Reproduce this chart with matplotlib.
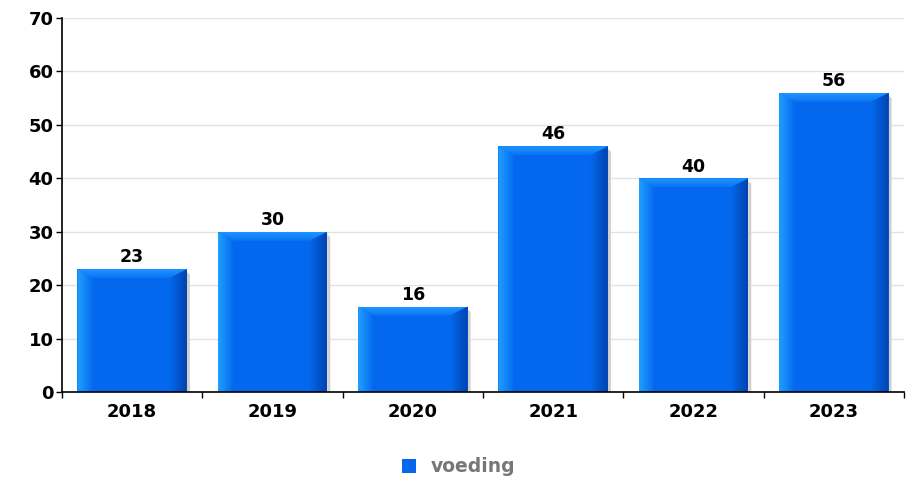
import matplotlib
matplotlib.use("Agg")
import matplotlib.pyplot as plt
import numpy as np
from matplotlib.patches import Polygon, Patch
from matplotlib.colors import LinearSegmentedColormap

categories = ["2018", "2019", "2020", "2021", "2022", "2023"]
values = [23, 30, 16, 46, 40, 56]
series_name = "voeding"
y_ticks = [0, 10, 20, 30, 40, 50, 60, 70]

MAIN = "#0468ee"
TOP_A = "#1f96ff"
TOP_B = "#0a74f4"
LEFT = "#20a0ff"
RIGHT = "#0044b0"

plt.rcParams['font.family'] = ['DejaVu Sans']
fig = plt.figure(figsize=(9.17, 4.79), dpi=100)
ax = fig.add_axes([62/917, 1-392/479, (904-62)/917, (392-18)/479])

x = np.arange(len(categories))
bars = ax.bar(x, values, width=0.78, color=MAIN, zorder=3, linewidth=0)

ax.set_xlim(-0.5, len(categories) - 0.5)
ax.set_ylim(0, 70)
ax.set_yticks(y_ticks)
ax.set_yticklabels([str(t) for t in y_ticks], fontsize=13, fontweight='bold')
ax.set_xticks(x)
ax.set_xticklabels(categories, fontsize=13, fontweight='bold')
ax.tick_params(axis='x', length=0, pad=8)
ax.set_xticks(np.arange(-0.5, len(categories) + 0.5, 1), minor=True)
ax.tick_params(axis='x', which='minor', length=4, width=1, direction='out', color='black')
ax.tick_params(axis='y', length=4, width=1, direction='out', pad=2)

ax.yaxis.grid(True, color='#e2e2e2', linewidth=1, zorder=0)
ax.set_axisbelow(True)
for s in ['top', 'right']:
    ax.spines[s].set_visible(False)
ax.spines['left'].set_linewidth(1.2)
ax.spines['bottom'].set_linewidth(1.2)
ax.spines['left'].set_zorder(5)
ax.spines['bottom'].set_zorder(5)

fig.canvas.draw()
px_x = (ax.transData.transform((1, 0))[0] - ax.transData.transform((0, 0))[0])
px_y = (ax.transData.transform((0, 1))[1] - ax.transData.transform((0, 0))[1])
bl = 16 / px_x
br = 18 / px_x
by = 9 / px_y
grad_h = np.linspace(0, 1, 64).reshape(1, -1)
grad_v = np.linspace(0, 1, 32).reshape(-1, 1)
cm_l = LinearSegmentedColormap.from_list('l', [LEFT, MAIN])
cm_r = LinearSegmentedColormap.from_list('r', [MAIN, RIGHT])
cm_t = LinearSegmentedColormap.from_list('t', [TOP_B, TOP_A])


def clipped_gradient(grad, extent, cmap, poly_pts, z):
    im = ax.imshow(grad, extent=extent, aspect='auto', cmap=cmap, vmin=0, vmax=1,
                   zorder=z, interpolation='bilinear', origin='lower')
    p = Polygon(poly_pts, closed=True, transform=ax.transData, facecolor='none', lw=0)
    ax.add_patch(p)
    im.set_clip_path(p)


for b in bars:
    x0 = b.get_x(); w = b.get_width(); h = b.get_height()
    x1 = x0 + w
    # shadow on right
    ax.add_patch(Polygon([(x1, 0), (x1, h - by * 0.3), (x1 + 3 / px_x, h - by * 0.6), (x1 + 3 / px_x, 0)],
                         closed=True, color='#cfcfcf', lw=0, zorder=2.9))
    # left band
    clipped_gradient(grad_h, (x0, x0 + bl, 0, h), cm_l,
                     [(x0, 0), (x0, h), (x0 + bl, h - by), (x0 + bl, 0)], 3.5)
    # right band
    clipped_gradient(grad_h, (x1 - br, x1, 0, h), cm_r,
                     [(x1, 0), (x1, h), (x1 - br, h - by), (x1 - br, 0)], 3.5)
    # top band
    clipped_gradient(grad_v, (x0, x1, h - by, h), cm_t,
                     [(x0, h), (x1, h), (x1 - br, h - by), (x0 + bl, h - by)], 3.6)
    ax.annotate(str(int(h)), (x0 + w / 2, h), xytext=(0, 2), textcoords='offset points',
                ha='center', va='bottom', fontsize=12.5, fontweight='bold', zorder=6)

ax.set_xlim(-0.5, len(categories) - 0.5)
ax.set_ylim(0, 70)

handle = Patch(facecolor=MAIN, edgecolor='none')
leg = fig.legend([handle], [series_name], loc='center', bbox_to_anchor=(0.5, 1 - 467/479),
                 frameon=False, handlelength=0.75, handleheight=0.75, handletextpad=0.8,
                 prop={'weight': 'bold', 'size': 13.5})
for t in leg.get_texts():
    t.set_color('#777777')

fig.savefig("out.png", dpi=100)
